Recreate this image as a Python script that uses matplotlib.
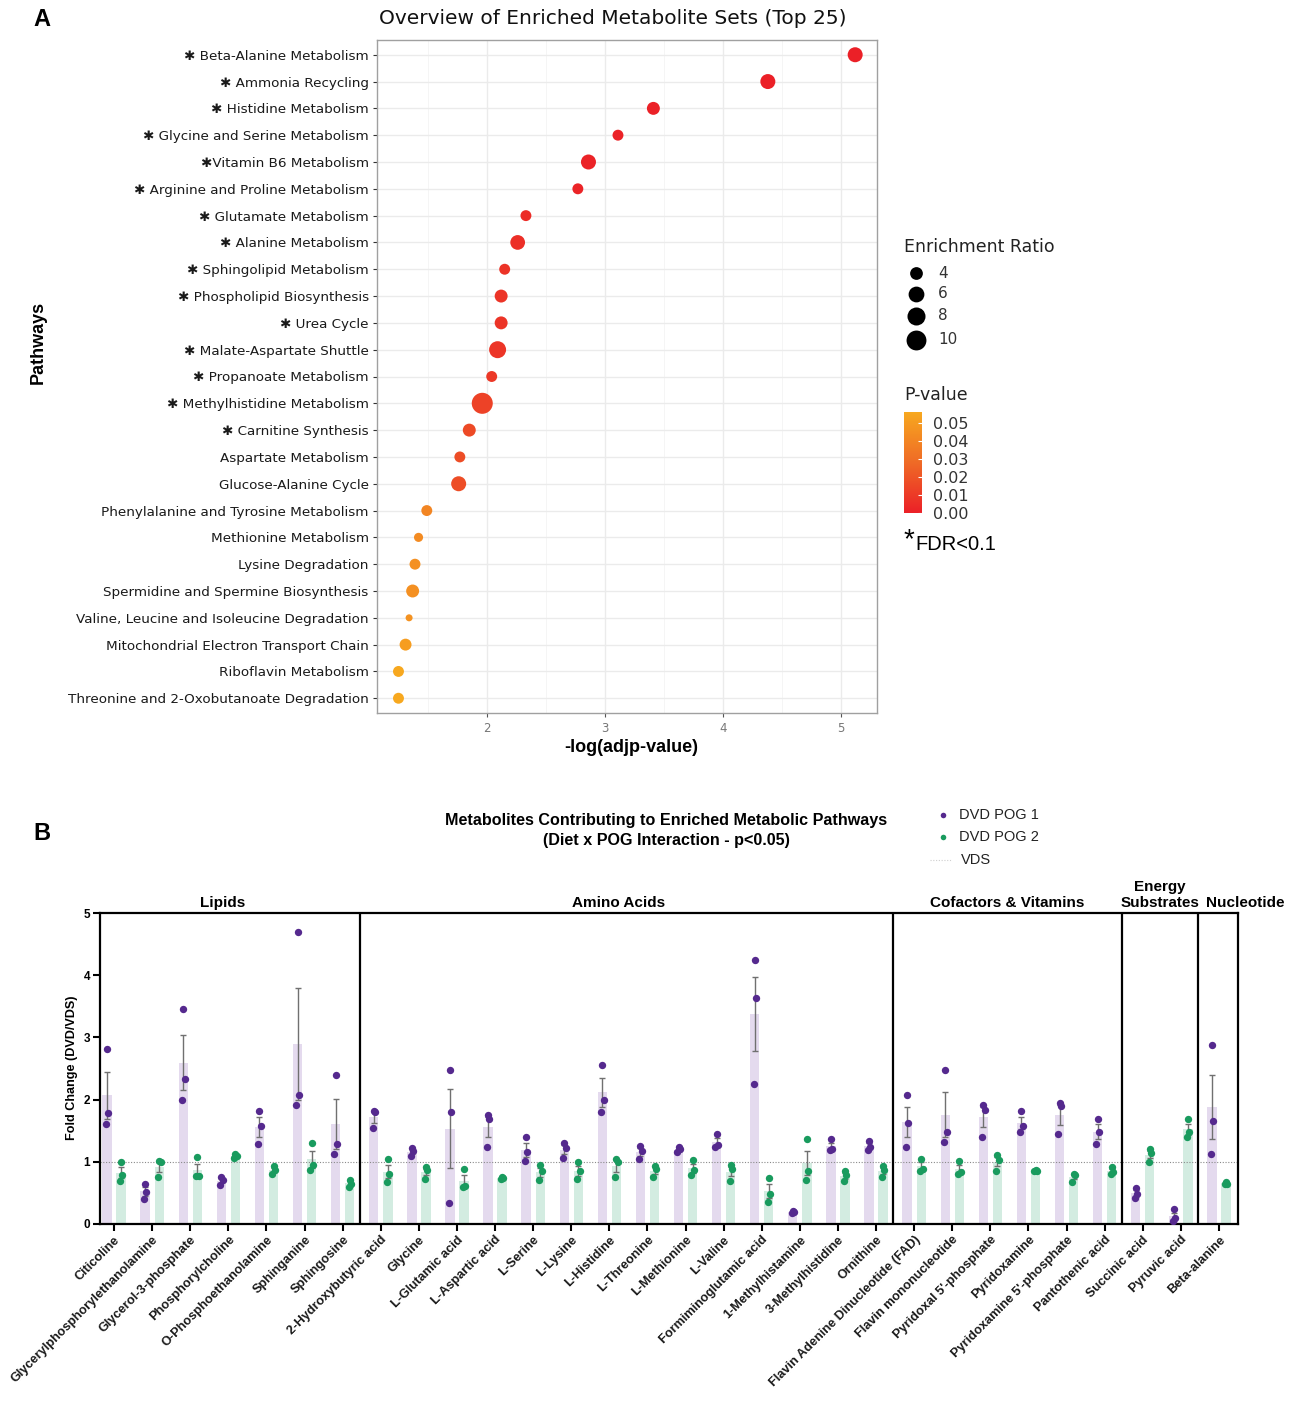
import numpy as np
import matplotlib
matplotlib.use('Agg')
import matplotlib.pyplot as plt
from matplotlib.colors import LinearSegmentedColormap, Normalize

W, H = 1299, 1402

# ---------------- Panel A data ----------------
pathways = ["Beta-Alanine Metabolism", "Ammonia Recycling", "Histidine Metabolism",
            "Glycine and Serine Metabolism", "Vitamin B6 Metabolism",
            "Arginine and Proline Metabolism", "Glutamate Metabolism", "Alanine Metabolism",
            "Sphingolipid Metabolism", "Phospholipid Biosynthesis", "Urea Cycle",
            "Malate-Aspartate Shuttle", "Propanoate Metabolism", "Methylhistidine Metabolism",
            "Carnitine Synthesis", "Aspartate Metabolism", "Glucose-Alanine Cycle",
            "Phenylalanine and Tyrosine Metabolism", "Methionine Metabolism",
            "Lysine Degradation", "Spermidine and Spermine Biosynthesis",
            "Valine, Leucine and Isoleucine Degradation", "Mitochondrial Electron Transport Chain",
            "Riboflavin Metabolism", "Threonine and 2-Oxobutanoate Degradation"]
fdr_below_01 = [True] * 15 + [False] * 10
neg_log_adjp = [5.12, 4.38, 3.41, 3.11, 2.86, 2.77, 2.33, 2.26, 2.15, 2.12, 2.12, 2.09,
                2.04, 1.96, 1.85, 1.77, 1.76, 1.49, 1.42, 1.39, 1.37, 1.34, 1.31, 1.25, 1.25]
enrichment_ratio = [5.4, 5.4, 4.1, 3.2, 5.4, 3.2, 3.2, 5.2, 3.2, 4.1, 4.1, 7.0, 3.2, 11.4,
                    4.1, 3.2, 5.4, 3.2, 2.7, 3.2, 4.1, 2.5, 3.6, 3.2, 3.2]
p_values = [0.000008, 0.00004, 0.0004, 0.0008, 0.0014, 0.0017, 0.0047, 0.0055, 0.0071,
            0.0076, 0.0076, 0.0081, 0.0091, 0.013, 0.016, 0.017, 0.017, 0.040, 0.043,
            0.045, 0.045, 0.046, 0.051, 0.056, 0.056]
size_breaks = [4, 6, 8, 10]
pval_breaks = [0.00, 0.01, 0.02, 0.03, 0.04, 0.05]

# ---------------- Panel B data ----------------
metabolites = ["Citicoline", "Glycerylphosphorylethanolamine", "Glycerol-3-phosphate",
               "Phosphorylcholine", "O-Phosphoethanolamine", "Sphinganine", "Sphingosine",
               "2-Hydroxybutyric acid", "Glycine", "L-Glutamic acid", "L-Aspartic acid",
               "L-Serine", "L-Lysine", "L-Histidine", "L-Threonine", "L-Methionine",
               "L-Valine", "Formiminoglutamic acid", "1-Methylhistamine", "3-Methylhistidine",
               "Ornithine", "Flavin Adenine Dinucleotide (FAD)", "Flavin mononucleotide",
               "Pyridoxal 5'-phosphate", "Pyridoxamine", "Pyridoxamine 5'-phosphate",
               "Pantothenic acid", "Succinic acid", "Pyruvic acid", "Beta-alanine"]
groups = ["Lipids", "Amino Acids", "Cofactors & Vitamins", "Energy\nSubstrates", "Nucleotide"]
group_sizes = [7, 14, 6, 2, 1]
pog1 = [[2.81, 1.78, 1.61], [0.65, 0.52, 0.40], [3.45, 2.33, 1.99], [0.75, 0.71, 0.63],
        [1.82, 1.57, 1.28], [4.69, 2.08, 1.92], [2.40, 1.28, 1.13], [1.82, 1.80, 1.54],
        [1.22, 1.17, 1.09], [2.47, 1.80, 0.33], [1.76, 1.69, 1.23], [1.40, 1.16, 1.02],
        [1.30, 1.22, 1.06], [2.56, 1.99, 1.80], [1.26, 1.17, 1.05], [1.23, 1.20, 1.15],
        [1.44, 1.27, 1.24], [4.25, 3.64, 2.25], [0.21, 0.20, 0.17], [1.36, 1.21, 1.19],
        [1.34, 1.24, 1.19], [2.07, 1.62, 1.24], [2.48, 1.48, 1.32], [1.92, 1.83, 1.40],
        [1.82, 1.58, 1.48], [1.95, 1.89, 1.44], [1.69, 1.48, 1.29], [0.58, 0.49, 0.41],
        [0.24, 0.09, 0.05], [2.87, 1.65, 1.12]]
pog2 = [[0.99, 0.79, 0.69], [1.01, 0.99, 0.76], [1.07, 0.77, 0.77], [1.13, 1.10, 1.06],
        [0.93, 0.87, 0.80], [1.31, 0.95, 0.87], [0.71, 0.65, 0.60], [1.04, 0.80, 0.68],
        [0.91, 0.87, 0.73], [0.89, 0.61, 0.59], [0.75, 0.74, 0.73], [0.95, 0.85, 0.70],
        [0.99, 0.85, 0.72], [1.05, 0.99, 0.75], [0.93, 0.89, 0.76], [1.03, 0.87, 0.79],
        [0.95, 0.89, 0.69], [0.74, 0.49, 0.35], [1.36, 0.86, 0.71], [0.85, 0.79, 0.69],
        [0.93, 0.87, 0.76], [1.05, 0.89, 0.86], [1.02, 0.84, 0.81], [1.11, 1.03, 0.86],
        [0.87, 0.86, 0.85], [0.80, 0.79, 0.68], [0.91, 0.84, 0.80], [1.21, 1.14, 1.00],
        [1.69, 1.48, 1.40], [0.68, 0.65, 0.64]]
yticks_b = [0, 1, 2, 3, 4, 5]

# ---------------- figure ----------------
fig = plt.figure(figsize=(W / 100, H / 100), dpi=100)
def fx(px): return px / W
def fy(py): return 1 - py / H

SANS = 'DejaVu Sans'
ARIAL = 'Liberation Sans'

# ===== Panel A =====
axA = fig.add_axes([fx(377), fy(713), fx(877) - fx(377), fy(40) - fy(713)])
n = len(pathways)
ypos = np.arange(n)
cmap = LinearSegmentedColormap.from_list('pv', ['#EB2027', '#EF6A26', '#F7A81F'])
norm = Normalize(vmin=0.0, vmax=max(p_values))
er_min = min(enrichment_ratio)

def diam_px(er):
    return 7.0 + 4.7 * np.sqrt(np.maximum(np.asarray(er, float) - er_min, 0))

def area_pt2(er):
    return (diam_px(er) * 0.72) ** 2

axA.set_xticks([2, 3, 4, 5])
axA.set_xticks([1.5, 2.5, 3.5, 4.5], minor=True)
axA.set_yticks(ypos)
axA.set_xlim(1.068, 5.305)
axA.set_ylim(n - 1 + 0.55, -0.55)
labels = [("\u2731 " if s else "") + p for p, s in zip(pathways, fdr_below_01)]
labels[4] = "\u2731" + pathways[4]
axA.set_yticklabels(labels, fontsize=9.7, family=SANS, color='#1a1a1a')
axA.tick_params(axis='x', labelsize=8.5, labelcolor='#777777', color='#555555', length=3)
axA.tick_params(axis='x', which='minor', length=0)
axA.tick_params(axis='y', color='#333333', length=3, pad=3)
axA.grid(True, which='major', color='#EBEBEB', lw=1.0)
axA.grid(True, which='minor', axis='x', color='#F4F4F4', lw=0.6)
axA.set_axisbelow(True)
for s in axA.spines.values():
    s.set_color('#A0A0A0')
    s.set_linewidth(1.0)
sc = axA.scatter(neg_log_adjp, ypos, s=area_pt2(enrichment_ratio), c=p_values,
                 cmap=cmap, norm=norm, linewidths=0, zorder=3)

fig.text(fx(631), fy(748), "-log(adjp-value)", ha='center', va='center', fontsize=13,
         fontweight='bold', family=ARIAL)
fig.text(fx(38), fy(342), "Pathways", ha='center', va='center', rotation=90, fontsize=13,
         fontweight='bold', family=ARIAL)

# overlay axes in pixel coordinates for legends/annotations
ov = fig.add_axes([0, 0, 1, 1])
ov.set_xlim(0, W)
ov.set_ylim(H, 0)
ov.axis('off')
ov.patch.set_alpha(0)

ov.text(613, 18, "Overview of Enriched Metabolite Sets (Top 25)", fontsize=14.5, family=SANS,
        color='#111111', ha='center', va='center')

ov.text(904, 247, "Enrichment Ratio", fontsize=12.5, family=SANS, color='#222222',
        va='center', ha='left')
for br, yy in zip(size_breaks, [273, 294, 316, 340]):
    ov.scatter([916], [yy], s=area_pt2([br]), color='black', linewidths=0)
    ov.text(938, yy, str(br), fontsize=11, family=SANS, color='#333333', va='center')
ov.text(904, 395, "P-value", fontsize=12.5, family=SANS, color='#222222', va='center')

cax = fig.add_axes([fx(904), fy(513), fx(922) - fx(904), fy(412) - fy(513)])
cb = fig.colorbar(sc, cax=cax)
cb.outline.set_visible(False)
cb.set_ticks(pval_breaks)
cb.set_ticklabels([f"{v:.2f}" for v in pval_breaks])
cax.tick_params(labelsize=11.5, labelcolor='#333333', color='white', length=3, width=0.8,
                direction='in', pad=8)
for t in cax.get_yticklabels():
    t.set_family(SANS)

ov.text(904, 540, "*", fontsize=20, family=ARIAL, va='center', ha='left', color='black')
ov.text(915, 545, "FDR<0.1", fontsize=14.5, family=ARIAL, va='center', ha='left',
        color='black')

# panel letters
ov.text(42, 20, "A", fontsize=17, fontweight='bold', family=ARIAL, ha='center', va='center')
ov.text(42, 833, "B", fontsize=17, fontweight='bold', family=ARIAL, ha='center', va='center')

# ===== Panel B =====
axB = fig.add_axes([fx(100), fy(1224), fx(1238) - fx(100), fy(913) - fy(1224)])
m = len(metabolites)
xc = np.arange(m)
off = 0.185
bw = 0.245
purple_dot = '#55298E'
green_dot = '#199B5E'
purple_bar = '#E4DAEE'
green_bar = '#D3ECE1'
jit = np.array([0.0, 0.035, -0.03])

p1 = np.array(pog1)
p2 = np.array(pog2)
mean1 = p1.mean(axis=1)
mean2 = p2.mean(axis=1)
sem1 = p1.std(axis=1, ddof=1) / np.sqrt(p1.shape[1])
sem2 = p2.std(axis=1, ddof=1) / np.sqrt(p2.shape[1])

axB.bar(xc - off, mean1, width=bw, color=purple_bar, zorder=1)
axB.bar(xc + off, mean2, width=bw, color=green_bar, zorder=1)
axB.axhline(1.0, color='#8a8a8a', lw=0.8, ls=(0, (1, 1.5)), zorder=2)
axB.errorbar(xc - off, mean1, yerr=sem1, fmt='none', ecolor='#707070', elinewidth=1.0,
             capsize=2.5, capthick=1.0, zorder=3)
axB.errorbar(xc + off, mean2, yerr=sem2, fmt='none', ecolor='#707070', elinewidth=1.0,
             capsize=2.5, capthick=1.0, zorder=3)
for i in range(m):
    axB.scatter(xc[i] - off + jit, p1[i], s=28, color=purple_dot, linewidths=0, zorder=4)
    axB.scatter(xc[i] + off + jit, p2[i], s=28, color=green_dot, linewidths=0, zorder=4)

axB.set_xticks(xc)
axB.set_yticks(yticks_b)
axB.set_xlim(-0.37, m - 0.5)
axB.set_ylim(0, 5)
axB.set_yticklabels([str(v) for v in yticks_b], fontsize=8.5, fontweight='bold', family=ARIAL)
axB.set_xticklabels(metabolites, rotation=45, ha='right', va='top', rotation_mode='anchor',
                    fontsize=9.2, fontweight='bold', family=ARIAL, color='#1a1a1a')
axB.tick_params(axis='both', width=1.5, length=5, color='black', pad=2)
for s in axB.spines.values():
    s.set_linewidth(1.6)
    s.set_color('black')

# group dividers and labels
bounds = np.cumsum(group_sizes)
edges = [-0.37] + [b - 0.55 for b in bounds[:-1]] + [m - 0.5]
for e in edges[1:-1]:
    axB.axvline(e, color='black', lw=1.6, zorder=5)
label_shift = [-0.2, -0.2, 0.0, 0.0, 0.0]
for g, lo, hi, sh in zip(groups, edges[:-1], edges[1:], label_shift):
    ctr = (lo + hi) / 2 + sh
    if g == "Nucleotide":
        ctr = hi + 0.2
    axB.text(ctr, 5.05, g, ha='center', va='bottom', fontsize=11, fontweight='bold',
             family=ARIAL, transform=axB.transData, linespacing=1.15)

fig.text(fx(72), fy(1068), "Fold Change (DVD/VDS)", rotation=90, ha='center', va='center',
         fontsize=9.1, fontweight='bold', family=ARIAL)
ov.text(666, 821, "Metabolites Contributing to Enriched Metabolic Pathways", ha='center',
        va='center', fontsize=11.6, fontweight='bold', family=ARIAL)
ov.text(666, 840, "(Diet x POG Interaction - p<0.05)", ha='center', va='center',
        fontsize=11.6, fontweight='bold', family=ARIAL)

# legend B
ov.scatter([943], [815], s=16, color=purple_dot, linewidths=0)
ov.text(959, 815, "DVD POG 1", fontsize=10.5, family=ARIAL, va='center', color='#222222')
ov.scatter([943], [837], s=16, color=green_dot, linewidths=0)
ov.text(959, 837, "DVD POG 2", fontsize=10.5, family=ARIAL, va='center', color='#222222')
ov.plot([930, 952], [860, 860], color='#cfcfcf', lw=0.8, ls=(0, (1, 1.5)))
ov.text(961, 860, "VDS", fontsize=10.5, family=ARIAL, va='center', color='#222222')

fig.savefig('out.png', dpi=100)
